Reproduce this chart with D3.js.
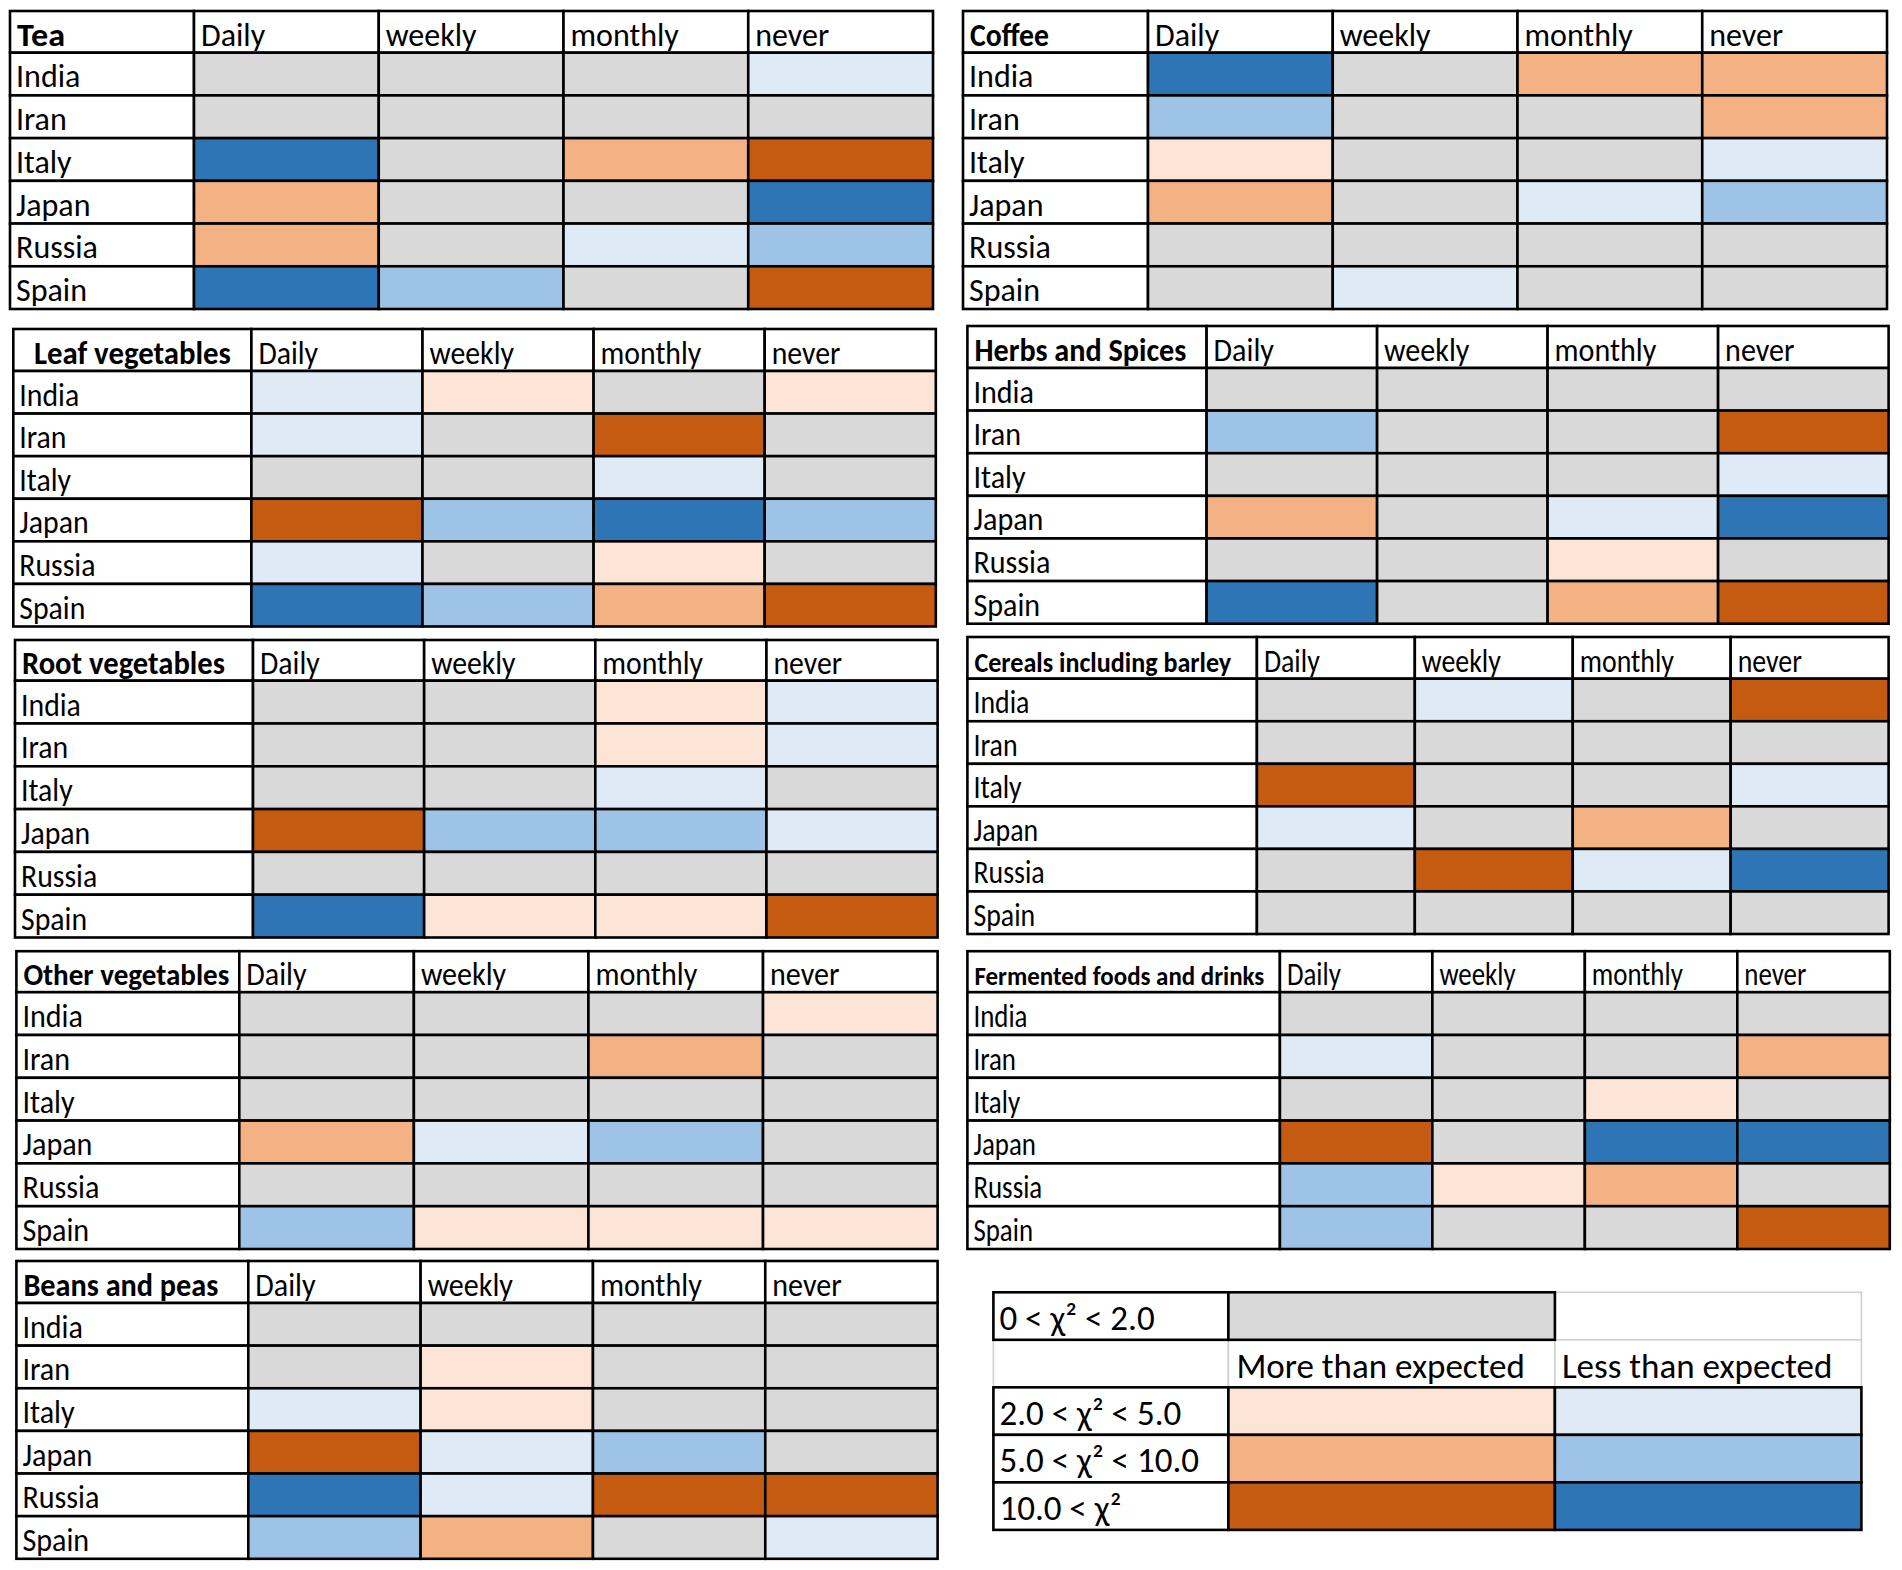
<!DOCTYPE html>
<html>
<head>
<meta charset="utf-8">
<script src="https://cdn.jsdelivr.net/npm/d3@7"></script>
<style>
  html, body { margin: 0; padding: 0; background: #ffffff; }
  svg { display: block; }
  text { font-family: Carlito, Lato, "Open Sans", sans-serif; fill: #000; }
</style>
</head>
<body>
<svg id="chart" width="1902" height="1570"></svg>
<script>
// ---------------- DATA ----------------
// level: 0 = 0<χ²<2.0 ; +1/+2/+3 = more than expected ; -1/-2/-3 = less than expected
const countries = ["India", "Iran", "Italy", "Japan", "Russia", "Spain"];
const frequencies = ["Daily", "weekly", "monthly", "never"];
const foods = ["Tea", "Coffee", "Leaf vegetables", "Herbs and Spices", "Root vegetables",
               "Cereals including barley", "Other vegetables", "Fermented foods and drinks", "Beans and peas"];

const teaLevels = [
  [0, 0, 0, -1],
  [0, 0, 0, 0],
  [-3, 0, 2, 3],
  [2, 0, 0, -3],
  [2, 0, -1, -2],
  [-3, -2, 0, 3]
];
const coffeeLevels = [
  [-3, 0, 2, 2],
  [-2, 0, 0, 2],
  [1, 0, 0, -1],
  [2, 0, -1, -2],
  [0, 0, 0, 0],
  [0, -1, 0, 0]
];
const leafVegetablesLevels = [
  [-1, 1, 0, 1],
  [-1, 0, 3, 0],
  [0, 0, -1, 0],
  [3, -2, -3, -2],
  [-1, 0, 1, 0],
  [-3, -2, 2, 3]
];
const herbsSpicesLevels = [
  [0, 0, 0, 0],
  [-2, 0, 0, 3],
  [0, 0, 0, -1],
  [2, 0, -1, -3],
  [0, 0, 1, 0],
  [-3, 0, 2, 3]
];
const rootVegetablesLevels = [
  [0, 0, 1, -1],
  [0, 0, 1, -1],
  [0, 0, -1, 0],
  [3, -2, -2, -1],
  [0, 0, 0, 0],
  [-3, 1, 1, 3]
];
const cerealsLevels = [
  [0, -1, 0, 3],
  [0, 0, 0, 0],
  [3, 0, 0, -1],
  [-1, 0, 2, 0],
  [0, 3, -1, -3],
  [0, 0, 0, 0]
];
const otherVegetablesLevels = [
  [0, 0, 0, 1],
  [0, 0, 2, 0],
  [0, 0, 0, 0],
  [2, -1, -2, 0],
  [0, 0, 0, 0],
  [-2, 1, 1, 1]
];
const fermentedLevels = [
  [0, 0, 0, 0],
  [-1, 0, 0, 2],
  [0, 0, 1, 0],
  [3, 0, -3, -3],
  [-2, 1, 2, 0],
  [-2, 0, 0, 3]
];
const beansPeasLevels = [
  [0, 0, 0, 0],
  [0, 1, 0, 0],
  [-1, 1, 0, 0],
  [3, -1, -2, 0],
  [-3, -1, 3, 3],
  [-2, 2, 0, -1]
];

const legendNeutralLabel = "0 < χ² < 2.0";
const legendDirections = ["More than expected", "Less than expected"];
const legendRangeLabels = ["2.0 < χ² < 5.0", "5.0 < χ² < 10.0", "10.0 < χ²"];
const legendRangeLevels = [1, 2, 3];

// ---------------- STYLE ----------------
const levelColor = d3.scaleOrdinal()
  .domain([-3, -2, -1, 0, 1, 2, 3])
  .range(["#2e75b6", "#9dc3e6", "#deebf7", "#d9d9d9", "#fce4d6", "#f4b183", "#c55a11"]);

const FONT = 32;
const LEGEND_FONT = 35;
const BORDER = 2.6;

// layout of each table (pixel boxes)
const tableLayouts = [
  { levels: teaLevels, left: 10, labelRight: 194, right: 933, top: 11, header: 52.7, bottom: 309, sx: 1.0, tw: 48, ts: 32, align: "left" },
  { levels: coffeeLevels, left: 963, labelRight: 1148, right: 1887, top: 11, header: 52.7, bottom: 309, sx: 1.0, tw: 79, ts: 32, align: "left" },
  { levels: leafVegetablesLevels, left: 13.3, labelRight: 251.4, right: 935.8, top: 329, header: 371, bottom: 626.5, sx: 0.93, tw: 197, ts: 32, align: "center" },
  { levels: herbsSpicesLevels, left: 967.4, labelRight: 1206.6, right: 1888.6, top: 326, header: 368, bottom: 623.7, sx: 0.94, tw: 212, ts: 32, align: "left" },
  { levels: rootVegetablesLevels, left: 15, labelRight: 253, right: 937.6, top: 640, header: 680.7, bottom: 937.5, sx: 0.93, tw: 203, ts: 32, align: "left" },
  { levels: cerealsLevels, left: 967.4, labelRight: 1256.9, right: 1888.6, top: 637, header: 678.7, bottom: 934, sx: 0.87, tw: 257, ts: 28, align: "left" },
  { levels: otherVegetablesLevels, left: 16.4, labelRight: 239.3, right: 937.6, top: 951.2, header: 992.2, bottom: 1249, sx: 0.94, tw: 206, ts: 31, align: "left" },
  { levels: fermentedLevels, left: 967.4, labelRight: 1279.9, right: 1889.8, top: 951.2, header: 992.2, bottom: 1249, sx: 0.84, tw: 290, ts: 27, align: "left" },
  { levels: beansPeasLevels, left: 16.4, labelRight: 248.3, right: 937.6, top: 1261, header: 1303, bottom: 1558.8, sx: 0.94, tw: 195, ts: 32, align: "left" }
];

const svg = d3.select("#chart");
svg.append("rect").attr("width", 1902).attr("height", 1570).attr("fill", "#fff");

function addText(g, str, x, y, sx, opts = {}) {
  const t = g.append("text")
    .attr("font-size", opts.size || FONT)
    .attr("font-weight", opts.bold ? 700 : 400)
    .attr("text-anchor", opts.anchor || "start")
    .text(str);
  let s = sx;
  if (opts.width) {
    const w = t.node().getComputedTextLength();
    if (w > 0) s = opts.width / w;
  }
  t.attr("transform", `translate(${x},${y}) scale(${s},1)`);
  return t;
}

tableLayouts.forEach((L, i) => {
  const g = svg.append("g");
  const x = d3.scaleBand().domain(frequencies).range([L.labelRight, L.right]);
  const y = d3.scaleBand().domain(countries).range([L.header, L.bottom]);
  const cells = [];
  countries.forEach((c, r) => frequencies.forEach((f, k) => cells.push({ c, f, v: L.levels[r][k] })));

  // header row
  g.append("rect").attr("x", L.left).attr("y", L.top)
    .attr("width", L.labelRight - L.left).attr("height", L.header - L.top)
    .attr("fill", "#fff").attr("stroke", "#000").attr("stroke-width", BORDER);
  g.selectAll(".hcell").data(frequencies).join("rect")
    .attr("x", d => x(d)).attr("y", L.top)
    .attr("width", x.bandwidth()).attr("height", L.header - L.top)
    .attr("fill", "#fff").attr("stroke", "#000").attr("stroke-width", BORDER);
  // row label cells
  g.selectAll(".lcell").data(countries).join("rect")
    .attr("x", L.left).attr("y", d => y(d))
    .attr("width", L.labelRight - L.left).attr("height", y.bandwidth())
    .attr("fill", "#fff").attr("stroke", "#000").attr("stroke-width", BORDER);
  // data cells
  g.selectAll(".dcell").data(cells).join("rect")
    .attr("x", d => x(d.f)).attr("y", d => y(d.c))
    .attr("width", x.bandwidth()).attr("height", y.bandwidth())
    .attr("fill", d => levelColor(d.v)).attr("stroke", "#000").attr("stroke-width", BORDER);

  // title
  const tx = L.align === "center" ? (L.left + L.labelRight) / 2 : L.left + 7;
  addText(g, foods[i], tx, L.header - 7, 1, { bold: true, size: L.ts, anchor: L.align === "center" ? "middle" : "start", width: L.tw });
  // column headers
  frequencies.forEach(f => addText(g, f, x(f) + 7, L.header - 7, L.sx));
  // row labels
  countries.forEach(c => addText(g, c, L.left + 6, y(c) + y.bandwidth() - 8, L.sx));
});

// ---------------- LEGEND ----------------
const lg = svg.append("g");
const legendCols = ["label", "more", "less"];
const legendColEdges = d3.scaleOrdinal().domain(legendCols).range([993.4, 1228.4, 1554.9]);
const legendColWidths = d3.scaleOrdinal().domain(legendCols).range([235, 326.5, 306.5]);
const legendRows = d3.scaleBand().domain(d3.range(5)).range([1292.3, 1529.9]);
const rh = legendRows.bandwidth();

// light-bordered cells first
[["less", 0], ["label", 1], ["more", 1], ["less", 1]].forEach(([c, r]) => {
  lg.append("rect").attr("x", legendColEdges(c)).attr("y", legendRows(r))
    .attr("width", legendColWidths(c)).attr("height", rh)
    .attr("fill", "#fff").attr("stroke", "#d0d0d0").attr("stroke-width", 1.6);
});
// neutral row
lg.append("rect").attr("x", legendColEdges("label")).attr("y", legendRows(0))
  .attr("width", legendColWidths("label")).attr("height", rh)
  .attr("fill", "#fff").attr("stroke", "#000").attr("stroke-width", BORDER);
lg.append("rect").attr("x", legendColEdges("more")).attr("y", legendRows(0))
  .attr("width", legendColWidths("more")).attr("height", rh)
  .attr("fill", levelColor(0)).attr("stroke", "#000").attr("stroke-width", BORDER);
addText(lg, legendNeutralLabel, legendColEdges("label") + 6, legendRows(0) + rh - 10, 1, { size: LEGEND_FONT });
// direction headers
addText(lg, legendDirections[0], legendColEdges("more") + 8, legendRows(1) + rh - 9, 1, { size: LEGEND_FONT });
addText(lg, legendDirections[1], legendColEdges("less") + 7, legendRows(1) + rh - 9, 1, { size: LEGEND_FONT });
// graded rows
legendRangeLabels.forEach((lab, i) => {
  const r = i + 2;
  const lv = legendRangeLevels[i];
  lg.append("rect").attr("x", legendColEdges("label")).attr("y", legendRows(r))
    .attr("width", legendColWidths("label")).attr("height", rh)
    .attr("fill", "#fff").attr("stroke", "#000").attr("stroke-width", BORDER);
  lg.append("rect").attr("x", legendColEdges("more")).attr("y", legendRows(r))
    .attr("width", legendColWidths("more")).attr("height", rh)
    .attr("fill", levelColor(lv)).attr("stroke", "#000").attr("stroke-width", BORDER);
  lg.append("rect").attr("x", legendColEdges("less")).attr("y", legendRows(r))
    .attr("width", legendColWidths("less")).attr("height", rh)
    .attr("fill", levelColor(-lv)).attr("stroke", "#000").attr("stroke-width", BORDER);
  addText(lg, lab, legendColEdges("label") + 6, legendRows(r) + rh - 10, 1, { size: LEGEND_FONT });
});
</script>
</body>
</html>
